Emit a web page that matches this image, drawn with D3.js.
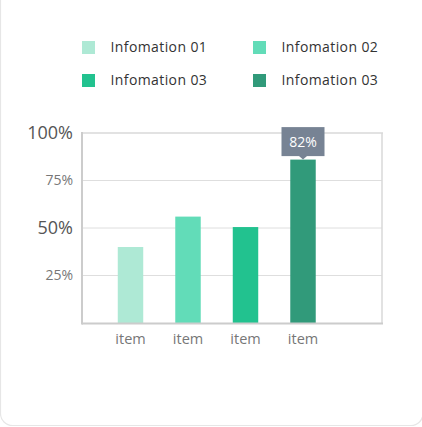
<!DOCTYPE html>
<html><head><meta charset="utf-8">
<script src="https://cdn.jsdelivr.net/npm/d3@7"></script>
<style>html,body{margin:0;padding:0;background:#fff;}svg{display:block;}</style>
</head><body>
<script>
const categories = ["item", "item", "item", "item"];
const values = [40, 56, 50.5, 86];
const barColors = ["#aee9d5", "#62dcb8", "#22c28f", "#319a7a"];
const legendLabels = ["Infomation 01", "Infomation 02", "Infomation 03", "Infomation 03"];
const yTicks = [25, 50, 75, 100];
const yTickLabels = ["25%", "50%", "75%", "100%"];
const tooltipIndex = 3;
const tooltipText = "82%";

const W = 422, H = 427;
const svg = d3.select("body").append("svg").attr("width", W).attr("height", H);
const font = "'Open Sans', 'Noto Sans', sans-serif";

// card
svg.append("rect").attr("x", 0.5).attr("y", -20).attr("width", W + 0.5).attr("height", H + 19.5 - 1)
  .attr("rx", 12).attr("fill", "#fff").attr("stroke", "#e6e6e6").attr("stroke-width", 1.2);

const x0 = 82, x1 = 382, yTop = 133, yBot = 323;
const y = d3.scaleLinear().domain([0, 100]).range([yBot, yTop]);
const x = d3.scaleBand().domain(d3.range(categories.length)).range([101.75, 331.75])
  .paddingInner(0.557).paddingOuter(0.557 / 2);

// gridlines
const g = svg.append("g");
g.selectAll("line.grid").data(yTicks.slice(0, 3)).join("line")
  .attr("x1", x0).attr("x2", x1).attr("y1", d => y(d)).attr("y2", d => y(d))
  .attr("stroke", "#dedede").attr("stroke-width", 1);
// frame top and right
g.append("line").attr("x1", x0).attr("x2", x1 + 1).attr("y1", yTop).attr("y2", yTop).attr("stroke", "#d8d8d8").attr("stroke-width", 1.5);
g.append("line").attr("x1", x1).attr("x2", x1).attr("y1", yTop).attr("y2", yBot).attr("stroke", "#d8d8d8").attr("stroke-width", 1.5);

// bars
svg.selectAll("rect.bar").data(values).join("rect").attr("class", "bar")
  .attr("x", (d, i) => x(i)).attr("width", x.bandwidth())
  .attr("y", d => y(d)).attr("height", d => yBot - y(d))
  .attr("fill", (d, i) => barColors[i]);

// axes lines
svg.append("line").attr("x1", x0).attr("x2", x1 + 1).attr("y1", yBot + 0.5).attr("y2", yBot + 0.5).attr("stroke", "#cccccc").attr("stroke-width", 2);
svg.append("line").attr("x1", x0).attr("x2", x0).attr("y1", yTop - 1).attr("y2", yBot + 1.5).attr("stroke", "#cccccc").attr("stroke-width", 2);

// y axis labels
const yAxis = d3.axisLeft(y).tickValues(yTicks).tickFormat((d, i) => yTickLabels[i]).tickSize(0).tickPadding(8);
const ya = svg.append("g").attr("transform", `translate(${x0 - 1},0)`).call(yAxis);
ya.select(".domain").remove();
ya.selectAll("text").attr("font-family", font)
  .attr("font-size", d => (d % 50 === 0 ? 18 : 14))
  .attr("fill", d => (d % 50 === 0 ? "#555" : "#777"));

// x axis labels
const xAxis = d3.axisBottom(x).tickFormat(i => categories[i]).tickSize(0).tickPadding(11);
const xa = svg.append("g").attr("transform", `translate(0,${yBot})`).call(xAxis);
xa.select(".domain").remove();
xa.selectAll("text").attr("font-family", font).attr("font-size", 14.5).attr("fill", "#777");

// tooltip
const tx = x(tooltipIndex) + x.bandwidth() / 2;
const ty = y(values[tooltipIndex]);
const tw = 43, th = 29;
svg.append("rect").attr("x", tx - tw / 2).attr("y", ty - 3.5 - th).attr("width", tw).attr("height", th).attr("fill", "#778394");
svg.append("path").attr("d", `M${tx - 4},${ty - 3.5}L${tx + 4},${ty - 3.5}L${tx},${ty}Z`).attr("fill", "#778394");
svg.append("text").attr("x", tx).attr("y", ty - 3.5 - th / 2).attr("dy", "0.35em").attr("text-anchor", "middle")
  .attr("font-family", font).attr("font-size", 14).attr("fill", "#fff").text(tooltipText);

// legend
const legX = [82, 253], legY = [41, 74];
const lg = svg.selectAll("g.leg").data(legendLabels).join("g").attr("class", "leg")
  .attr("transform", (d, i) => `translate(${legX[i % 2]},${legY[Math.floor(i / 2)]})`);
lg.append("rect").attr("width", 13).attr("height", 13).attr("fill", (d, i) => barColors[i]);
lg.append("text").attr("x", 28.5).attr("y", 6.5).attr("dy", "0.35em").attr("font-family", font)
  .attr("font-size", 14).attr("letter-spacing", 0.4).attr("fill", "#333").text(d => d);
</script>
</body></html>
